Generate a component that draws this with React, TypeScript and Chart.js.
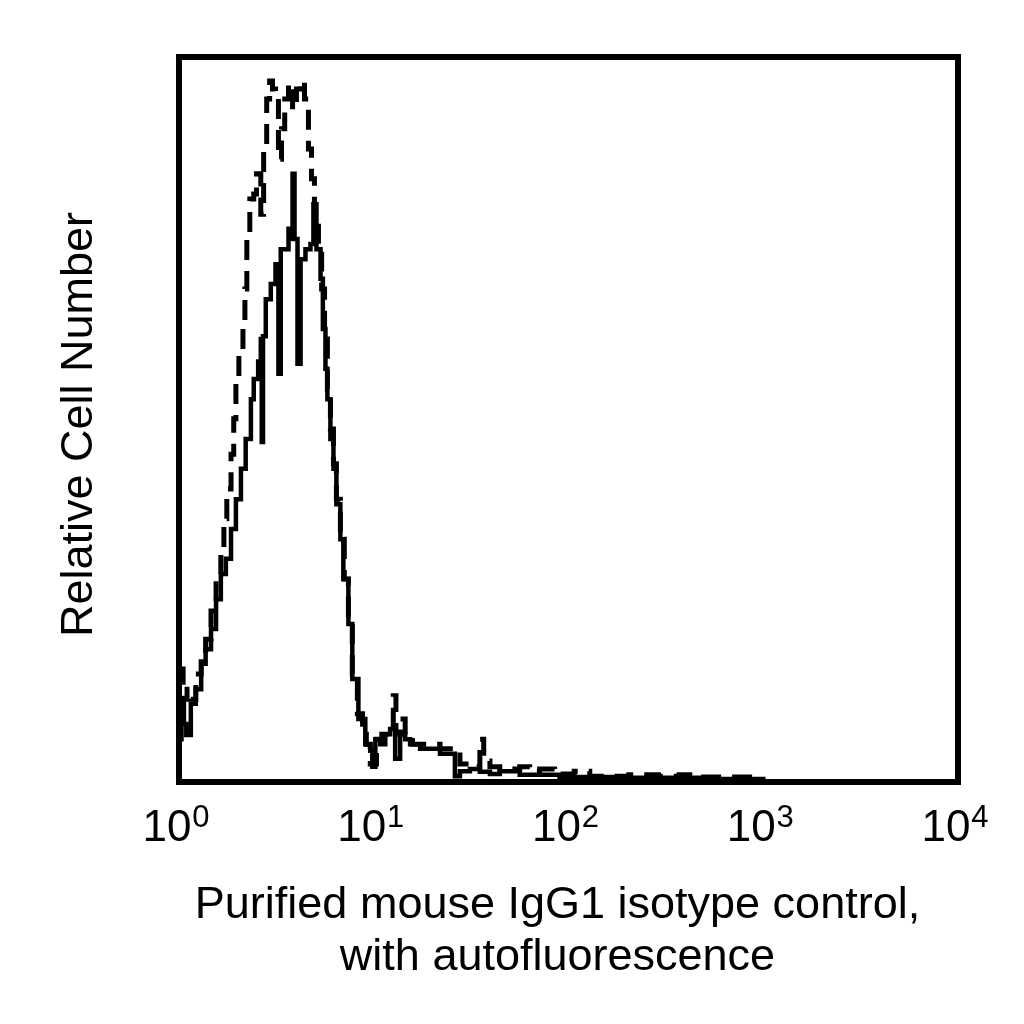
import { useEffect, useRef } from 'react';
import { Chart, registerables } from 'chart.js';

Chart.register(...registerables);

// stained sample (solid) - fluorescence intensity and relative count
const solidX = [
  1.0, 1.03, 1.06, 1.09, 1.15, 1.22, 1.3, 1.37, 1.46, 1.55, 1.64, 1.74, 1.85, 1.96, 2.08, 2.2,
  2.34, 2.42, 2.55, 2.63, 2.66, 2.7, 2.79, 2.96, 3.13, 3.24, 3.33, 3.53, 3.65, 3.74, 3.83, 3.92,
  4.06, 4.21, 4.46, 4.73, 4.9, 5.08, 5.33, 5.48, 5.65, 5.78, 5.99, 6.21, 6.43, 6.74, 6.98, 7.41,
  7.76, 8.34, 9.05, 9.6, 9.83, 10.19, 10.8, 11.46, 12.14, 12.88, 13.66, 14.5, 15.37, 17.3, 19.45,
  21.89, 24.62, 26.1, 27.7, 31.17, 35.06, 39.5, 44.37, 56.17, 71.09, 89.96, 113.8, 182.4, 468, 1000,
];
const solidY = [
  5.9, 11.0, 8.0, 6.5, 10.8, 12.8, 16.3, 18.3, 21.1, 25.2, 28.7, 30.8, 34.9, 39.0, 43.2, 47.3,
  52.8, 55.6, 58.0, 61.1, 46.9, 61.5, 66.6, 68.7, 71.4, 56.3, 73.5, 73.5, 76.3, 74.9, 83.9, 74.9,
  57.7, 72.1, 73.5, 74.2, 79.7, 73.5, 69.4, 62.5, 57.0, 52.8, 47.3, 43.2, 38.3, 33.5, 28.0, 21.8,
  14.2, 8.7, 5.2, 4.3, 2.1, 5.9, 5.2, 6.6, 7.3, 3.2, 6.6, 5.9, 5.2, 4.6, 4.6,
  3.9, 3.9, 0.8, 1.5, 1.8, 1.4, 1.1, 1.5, 1.0, 1.0, 0.7, 0.7, 0.6, 0.4, 0.3,
];

// isotype control with autofluorescence (dashed)
const dashedX = [
  1.0, 1.05, 1.1, 1.15, 1.22, 1.3, 1.37, 1.46, 1.55, 1.64, 1.7, 1.76, 1.85, 1.91, 1.96, 2.03,
  2.13, 2.18, 2.23, 2.31, 2.42, 2.5, 2.63, 2.72, 2.82, 2.92, 3.02, 3.13, 3.24, 3.36, 3.49, 3.65,
  3.83, 4.01, 4.21, 4.41, 4.62, 4.79, 4.96, 5.2, 5.4, 5.59, 5.78, 5.99, 6.21, 6.43, 6.74, 7.06,
  7.41, 7.76, 8.24, 8.76, 9.16, 9.6, 10.33, 11.0, 12.14, 12.6, 13.0, 13.66, 14.5, 15.8, 17.3,
  19.45, 21.89, 24.62, 27.7, 31.17, 35.06, 36.7, 39.5, 44.37, 49.9, 56.17, 63.2, 71.09, 84.8,
  107.0, 128.6, 161.9, 204.0, 289.7, 369.8, 468, 749.6, 948,
];
const dashedY = [
  15.6, 11.4, 12.8, 11.4, 14.9, 17.7, 19.7, 23.6, 28.7, 31.4, 36.3, 40.4, 45.2, 50.1, 54.9, 59.0,
  63.2, 68.0, 74.9, 80.4, 81.1, 83.9, 78.3, 87.3, 94.2, 96.7, 95.6, 94.9, 85.9, 90.1, 94.2, 96.3,
  92.8, 95.6, 96.7, 94.2, 87.3, 83.2, 78.3, 72.8, 68.0, 61.1, 54.2, 48.7, 43.9, 39.0, 33.5, 28.0,
  22.2, 14.9, 9.4, 6.6, 5.2, 2.5, 5.9, 6.6, 7.3, 11.9, 6.6, 8.7, 6.6, 5.2, 5.2,
  5.2, 4.6, 4.6, 2.5, 2.1, 5.9, 2.9, 2.1, 1.8, 1.8, 2.1, 1.5, 1.8, 1.1,
  1.5, 0.8, 0.8, 1.0, 0.8, 1.0, 0.7, 0.7, 0.4,
];

const tickValues = [1, 10, 100, 1000, 10000];
const tickExponents = ['0', '1', '2', '3', '4'];
const yTitle = 'Relative Cell Number';
const xTitle = ['Purified mouse IgG1 isotype control,', 'with autofluorescence'];

const FONT = '"Liberation Sans", Arial, sans-serif';

const framePlugin = {
  id: 'frameAndLabels',
  afterDraw(chart: Chart) {
    const { ctx, chartArea } = chart;
    const xScale = chart.scales.x;
    ctx.save();
    ctx.strokeStyle = '#000';
    ctx.lineWidth = 6;
    ctx.strokeRect(chartArea.left, chartArea.top, chartArea.right - chartArea.left, chartArea.bottom - chartArea.top);

    ctx.fillStyle = '#000';
    ctx.textBaseline = 'alphabetic';
    ctx.textAlign = 'left';
    const baseY = chartArea.bottom + 59;
    tickValues.forEach((v, i) => {
      const px = xScale.getPixelForValue(v);
      ctx.font = `44px ${FONT}`;
      const baseW = ctx.measureText('10').width;
      ctx.font = `31px ${FONT}`;
      const supW = ctx.measureText(tickExponents[i]).width;
      const left = px - (baseW + 1 + supW) / 2 - 3;
      ctx.font = `44px ${FONT}`;
      ctx.fillText('10', left, baseY);
      ctx.font = `31px ${FONT}`;
      ctx.fillText(tickExponents[i], left + baseW + 1, baseY - 14);
    });

    ctx.font = `45px ${FONT}`;
    ctx.textAlign = 'center';
    const cx = (chartArea.left + chartArea.right) / 2 - 11;
    ctx.fillText(xTitle[0], cx, chartArea.bottom + 136);
    ctx.fillText(xTitle[1], cx, chartArea.bottom + 188);

    ctx.translate(chartArea.left - 87, (chartArea.top + chartArea.bottom) / 2 + 5);
    ctx.rotate(-Math.PI / 2);
    ctx.fillText(yTitle, 0, 0);
    ctx.restore();
  },
};

export default function App() {
  const canvasRef = useRef<HTMLCanvasElement>(null);
  const chartRef = useRef<Chart | null>(null);

  useEffect(() => {
    if (!canvasRef.current) return;
    if (chartRef.current) chartRef.current.destroy();

    chartRef.current = new Chart(canvasRef.current, {
      type: 'line',
      data: {
        datasets: [
          {
            label: 'Isotype control',
            data: dashedX.map((x, i) => ({ x, y: dashedY[i] })),
            borderColor: '#000',
            borderWidth: 5,
            borderDash: [20, 11],
            stepped: true,
            pointRadius: 0,
            fill: false,
          },
          {
            label: 'Stained',
            data: solidX.map((x, i) => ({ x, y: solidY[i] })),
            borderColor: '#000',
            borderWidth: 4.5,
            stepped: true,
            pointRadius: 0,
            fill: false,
          },
        ],
      },
      options: {
        animation: false,
        responsive: false,
        layout: { padding: { left: 179, right: 66, top: 57, bottom: 242 } },
        plugins: {
          legend: { display: false },
          tooltip: { enabled: false },
        },
        scales: {
          x: { type: 'logarithmic', min: 1, max: 10000, display: false },
          y: { type: 'linear', min: 0, max: 100, display: false },
        },
      },
      plugins: [framePlugin],
    });

    return () => {
      if (chartRef.current) {
        chartRef.current.destroy();
        chartRef.current = null;
      }
    };
  }, []);

  return (
    <div style={{ position: 'absolute', left: 0, top: 0, width: 1024, height: 1024, background: '#fff' }}>
      <canvas ref={canvasRef} width={1024} height={1024} style={{ width: 1024, height: 1024 }}></canvas>
    </div>
  );
}
